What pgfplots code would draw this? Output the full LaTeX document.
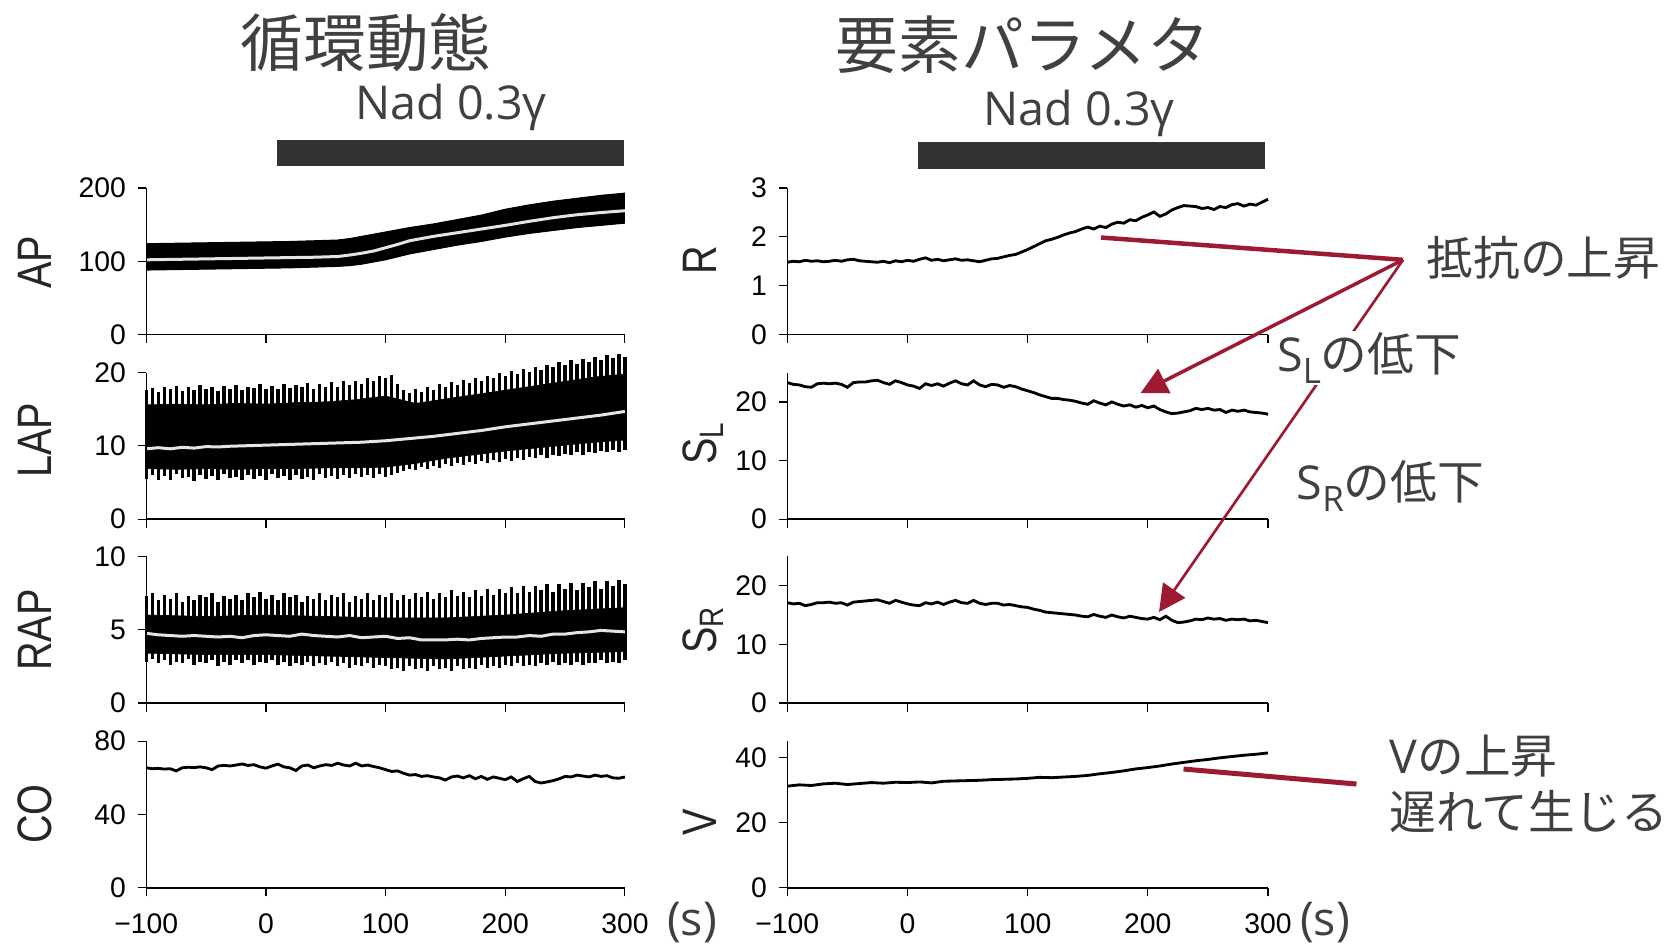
\documentclass[border=0pt]{standalone}
\usepackage{pgfplots}
\pgfplotsset{compat=1.18}
\usepackage{pgfplotstable}
\usepgfplotslibrary{fillbetween}
\usetikzlibrary{arrows.meta}
\usepackage{graphicx}
\usepackage{fontspec}
\setmainfont{Liberation Sans}
\newfontfamily\jp{Noto Sans CJK JP}
\newfontfamily\op{Open Sans}
\definecolor{arr}{RGB}{156,27,50}
\definecolor{barc}{RGB}{51,51,51}
\definecolor{txt}{RGB}{64,64,64}
\definecolor{lab}{RGB}{38,38,38}
\definecolor{meanc}{RGB}{228,228,228}

\pgfplotstableread{
t lo hi m
-100 88 124 102
-80 88.5 124.5 102.5
-60 89 125 103
-40 89.5 125.5 103.5
-20 90 126 104
0 90.5 126.5 104.5
20 91 127 105
40 92 128 105.5
60 93 129 106.5
70 94 131 108.5
80 96 134 111
90 99 137 114
100 102 140 118.5
110 106 143 123
120 110 146 128
140 116 151 134
160 122 157 139
180 127 163 144
200 133 171 149
220 138 177 154.5
240 142 182 159.5
260 146 186 163.5
280 149 190 166.5
300 152 193 169
}\aptab

\pgfplotstableread{
t lo hi
-100 5.5 17.6
-95 6.0 17.9
-90 5.4 17.4
-85 5.9 18.1
-80 5.3 17.7
-75 6.1 18.2
-70 5.6 17.5
-65 5.8 18.0
-60 5.2 17.6
-55 6.0 18.3
-50 5.5 17.8
-45 5.9 18.1
-40 5.3 17.5
-35 6.2 18.2
-30 5.6 17.7
-25 5.8 18.3
-20 5.4 17.6
-15 6.0 18.1
-10 5.5 17.9
-5 5.9 18.4
0 5.4 17.7
5 6.1 18.2
10 5.6 17.8
15 5.9 18.5
20 5.3 17.9
25 6.0 18.3
30 5.5 18.0
35 5.8 18.6
40 5.4 17.8
45 6.2 18.4
50 5.6 18.1
55 5.9 18.7
60 5.5 18.0
65 6.0 18.8
70 5.6 18.3
75 6.1 18.9
80 5.7 18.5
85 6.0 19.2
90 5.6 18.8
95 6.2 19.5
100 5.8 19.3
105 6.0 19.7
110 6.3 18.4
115 6.6 17.6
120 6.9 17.2
125 6.7 17.8
130 7.1 17.3
135 6.9 18.0
140 7.3 17.6
145 7.0 18.4
150 7.5 18.0
155 7.2 18.7
160 7.6 18.3
165 7.4 19.0
170 7.8 18.6
175 7.5 19.3
180 7.9 18.9
185 7.7 19.6
190 8.1 19.2
195 7.8 19.9
200 8.2 19.5
205 8.0 20.2
210 8.4 19.8
215 8.1 20.5
220 8.5 20.1
225 8.3 20.8
230 8.7 20.4
235 8.4 21.1
240 8.8 20.7
245 8.6 21.4
250 8.9 21.0
255 8.7 21.7
260 9.1 21.2
265 8.8 21.9
270 9.2 21.5
275 9.0 22.2
280 9.3 21.7
285 9.1 22.4
290 9.4 22.0
295 9.2 22.6
300 9.5 22.1
}\lapspk
\pgfplotstableread{
t lo hi
-100 6.9 15.6
-75 6.8 15.7
-50 6.9 15.6
-25 6.8 15.8
0 6.9 15.7
25 6.9 15.9
50 7.0 16.0
75 7.0 16.3
100 7.1 16.8
125 7.6 15.8
150 8.3 16.4
175 8.8 17.0
200 9.3 17.6
225 9.7 18.2
250 10.1 18.8
275 10.5 19.4
300 10.8 19.8
}\lapcore
\pgfplotstableread{
t m
-100 9.6
-90 9.75
-80 9.6
-70 9.8
-60 9.7
-50 9.9
-40 9.85
-30 9.95
-20 10.0
-10 10.05
0 10.1
20 10.2
40 10.3
60 10.4
80 10.5
100 10.7
120 11.0
140 11.3
160 11.7
180 12.1
200 12.6
220 13.0
240 13.4
260 13.8
280 14.2
300 14.7
}\lapmean

\pgfplotstableread{
t lo hi
-100 2.8 7.3
-95 3.0 7.5
-90 2.7 7.0
-85 2.9 7.4
-80 2.6 7.1
-75 2.8 7.5
-70 2.7 6.9
-65 3.0 7.3
-60 2.6 7.0
-55 2.8 7.4
-50 2.7 7.2
-45 2.9 7.5
-40 2.5 6.9
-35 2.8 7.3
-30 2.6 7.1
-25 2.9 7.4
-20 2.7 7.0
-15 2.9 7.5
-10 2.6 7.2
-5 2.8 7.6
0 2.7 7.1
5 2.9 7.4
10 2.6 7.0
15 2.8 7.5
20 2.5 7.2
25 2.7 7.4
30 2.6 6.9
35 2.8 7.3
40 2.5 7.1
45 2.7 7.5
50 2.6 7.0
55 2.8 7.4
60 2.5 7.2
65 2.7 7.5
70 2.4 6.9
75 2.6 7.3
80 2.5 7.1
85 2.7 7.5
90 2.4 7.0
95 2.6 7.4
100 2.5 7.2
105 2.3 7.5
110 2.4 7.0
115 2.2 7.4
120 2.5 7.1
125 2.3 7.5
130 2.4 7.2
135 2.2 7.6
140 2.5 7.1
145 2.3 7.5
150 2.4 7.2
155 2.2 7.7
160 2.5 7.3
165 2.3 7.6
170 2.4 7.2
175 2.3 7.7
180 2.6 7.3
185 2.4 7.8
190 2.5 7.4
195 2.4 7.8
200 2.6 7.5
205 2.5 7.9
210 2.7 7.5
215 2.5 8.0
220 2.6 7.6
225 2.5 8.0
230 2.7 7.7
235 2.6 8.1
240 2.8 7.6
245 2.6 8.1
250 2.7 7.8
255 2.6 8.2
260 2.8 7.7
265 2.6 8.2
270 2.7 7.9
275 2.7 8.3
280 2.9 7.8
285 2.7 8.3
290 2.8 8.0
295 2.7 8.4
300 2.9 8.1
}\rapspk
\pgfplotstableread{
t lo hi
-100 3.4 6.0
-50 3.3 5.9
0 3.3 6.0
50 3.2 5.9
100 3.1 5.8
150 3.0 5.8
200 3.2 6.0
250 3.4 6.3
300 3.5 6.5
}\rapcore
\pgfplotstableread{
t m
-100 4.75
-90 4.65
-80 4.6
-70 4.55
-60 4.6
-50 4.55
-40 4.5
-30 4.55
-20 4.45
-10 4.6
0 4.65
10 4.6
20 4.55
30 4.7
40 4.6
50 4.55
60 4.5
70 4.6
80 4.45
90 4.5
100 4.55
110 4.4
120 4.45
130 4.3
140 4.3
150 4.3
160 4.35
170 4.3
180 4.4
190 4.45
200 4.5
210 4.5
220 4.6
230 4.55
240 4.7
250 4.7
260 4.8
270 4.85
280 4.95
290 4.9
300 4.85
}\rapmean

\pgfplotstableread{
t v
-100 65.5
-95 65.0
-90 65.2
-85 64.8
-80 65.0
-75 63.8
-70 65.5
-65 65.8
-60 65.6
-55 66.0
-50 65.5
-45 64.5
-40 66.5
-35 66.8
-30 66.5
-25 67.0
-20 67.6
-15 66.8
-10 67.2
-5 66.0
0 65.3
5 66.5
10 67.5
15 66.0
20 65.5
25 64.0
30 66.5
35 67.0
40 65.5
45 66.5
50 67.2
55 66.8
60 68.0
65 67.0
70 66.5
75 68.0
80 66.5
85 67.0
90 66.2
95 65.5
100 64.5
105 63.5
110 63.8
115 62.5
120 61.5
125 61.8
130 60.8
135 61.2
140 60.5
145 60.0
150 58.8
155 60.5
160 61.0
165 60.0
170 61.2
175 59.5
180 60.8
185 59.2
190 60.5
195 59.8
200 59.0
205 60.5
210 58.0
215 59.5
220 60.8
225 58.0
230 57.2
235 57.8
240 58.5
245 59.5
250 60.8
255 60.5
260 61.5
265 61.0
270 60.5
275 61.5
280 60.8
285 61.2
290 60.0
295 59.8
300 60.5
}\cotab

\pgfplotstableread{
t r sl sr
-100 1.48 23.3 17.1
-95 1.50 23.0 16.9
-90 1.49 22.9 17.0
-85 1.52 22.6 16.6
-80 1.50 22.5 16.8
-75 1.51 23.1 17.1
-70 1.49 23.2 17.1
-65 1.50 23.1 17.2
-60 1.52 23.2 17.0
-55 1.50 23.0 17.1
-50 1.53 22.5 16.7
-45 1.54 23.3 17.2
-40 1.51 23.4 17.3
-35 1.50 23.4 17.4
-30 1.49 23.6 17.5
-25 1.48 23.7 17.6
-20 1.50 23.3 17.3
-15 1.47 23.0 17.0
-10 1.51 23.6 17.5
-5 1.49 23.3 17.2
0 1.52 22.9 16.9
5 1.50 22.7 16.7
10 1.54 22.3 16.6
15 1.57 23.1 17.1
20 1.52 22.8 16.9
25 1.54 23.1 17.2
30 1.51 22.7 16.8
35 1.53 23.2 17.2
40 1.55 23.6 17.5
45 1.52 23.1 17.1
50 1.53 22.9 17.0
55 1.51 23.6 17.5
60 1.49 22.9 17.0
65 1.52 22.6 16.8
70 1.55 23.0 17.0
75 1.56 22.9 17.0
80 1.59 22.5 16.7
85 1.62 22.8 16.8
90 1.64 22.6 16.6
95 1.69 22.2 16.4
100 1.74 21.9 16.3
105 1.80 21.6 16.0
110 1.86 21.2 15.8
115 1.92 20.9 15.5
120 1.95 20.6 15.4
125 1.99 20.6 15.3
130 2.04 20.4 15.2
135 2.08 20.3 15.1
140 2.11 20.1 15.0
145 2.16 19.8 14.8
150 2.20 19.6 14.7
155 2.16 20.2 15.1
160 2.22 19.8 14.8
165 2.19 19.5 14.6
170 2.26 20.0 15.0
175 2.30 19.6 14.7
180 2.28 19.3 14.5
185 2.35 19.5 14.8
190 2.33 19.1 14.6
195 2.40 19.4 14.4
200 2.45 19.0 14.3
205 2.51 19.3 14.6
210 2.42 18.7 14.2
215 2.47 18.3 14.8
220 2.55 18.0 14.1
225 2.60 18.1 13.7
230 2.64 18.3 13.8
235 2.63 18.5 14.0
240 2.62 18.9 14.3
245 2.58 18.7 14.2
250 2.60 18.9 14.5
255 2.56 18.6 14.3
260 2.62 18.7 14.4
265 2.60 18.2 14.1
270 2.66 18.6 14.3
275 2.68 18.4 14.2
280 2.63 18.6 14.3
285 2.67 18.3 14.0
290 2.65 18.2 14.1
295 2.71 18.1 13.9
300 2.77 17.9 13.7
}\partab

\pgfplotstableread{
t v
-100 31.2
-90 31.6
-80 31.4
-70 31.9
-60 32.1
-50 31.7
-40 32.0
-30 32.3
-20 32.1
-10 32.4
0 32.3
10 32.5
20 32.2
30 32.7
40 32.8
50 32.9
60 33.0
70 33.2
80 33.3
90 33.4
100 33.6
110 33.9
120 33.8
130 34.0
140 34.2
150 34.5
160 35.0
170 35.4
180 35.9
190 36.5
200 36.9
210 37.4
220 38.0
230 38.5
240 39.0
250 39.4
260 39.9
270 40.3
280 40.7
290 41.0
300 41.4
}\vtab

\pgfplotsset{
  panel/.style={
    scale only axis, height=43.95pt,
    xmin=-100, xmax=300, xtick={-100,0,100,200,300},
    xticklabels={},
    axis x line=bottom, axis y line=left,
    x axis line style={line width=0.55pt,-},
    y axis line style={line width=0.35pt,-},
    tick align=outside,
    major tick length=2.6pt,
    every tick/.style={black, line width=0.35pt},
    tick label style={font=\fontsize{8.5}{9}\selectfont},
    xticklabel style={yshift=-1.6pt},
    clip=false,
    axis on top,
    anchor=south west,
  },
  lpan/.style={panel, width=143.58pt},
  rpan/.style={panel, width=144.21pt},
  bot/.style={xticklabels={−100,0,100,200,300}},
  dl/.style={black, line width=0.85pt},
  spkb/.style={ycomb, mark=none, black, line width=1.0pt},
  spkw/.style={ycomb, mark=none, white, line width=1.25pt},
}

\begin{document}
\begin{tikzpicture}
\path (0pt,0pt) rectangle (502.5pt,-285pt);

% ===== AP =====
\begin{axis}[lpan, at={(43.89pt,-100.35pt)}, ymin=0, ymax=200, ytick={0,100,200}, yticklabels={0,100,200}]
\addplot[name path=aphi, draw=black, line width=0.3pt] table[x=t,y=hi]{\aptab};
\addplot[name path=aplo, draw=black, line width=0.3pt] table[x=t,y=lo]{\aptab};
\addplot[fill=black, draw=none] fill between[of=aphi and aplo];
\addplot[meanc, line width=0.9pt] table[x=t,y=m]{\aptab};
\draw[barc, fill=barc] (axis cs:10,230.6) rectangle (axis cs:299,264.3);
\end{axis}

% ===== LAP =====
\begin{axis}[lpan, at={(43.89pt,-155.73pt)}, ymin=0, ymax=20, ytick={0,10,20}, yticklabels={0,10,20}]
\addplot[spkb] table[x=t, y=hi]{\lapspk};
\addplot[spkw] table[x=t, y=lo]{\lapspk};
\addplot[name path=lc1, draw=black, line width=0.2pt] table[x=t,y=lo]{\lapcore};
\addplot[name path=lc2, draw=black, line width=0.2pt] table[x=t,y=hi]{\lapcore};
\addplot[fill=black, draw=none] fill between[of=lc1 and lc2];
\addplot[meanc, line width=0.9pt] table[x=t,y=m]{\lapmean};
\end{axis}

% ===== RAP =====
\begin{axis}[lpan, at={(43.89pt,-210.87pt)}, ymin=0, ymax=10, ytick={0,5,10}, yticklabels={0,5,10}]
\addplot[spkb] table[x=t, y=hi]{\rapspk};
\addplot[spkw] table[x=t, y=lo]{\rapspk};
\addplot[name path=rc1, draw=black, line width=0.2pt] table[x=t,y=lo]{\rapcore};
\addplot[name path=rc2, draw=black, line width=0.2pt] table[x=t,y=hi]{\rapcore};
\addplot[fill=black, draw=none] fill between[of=rc1 and rc2];
\addplot[meanc, line width=0.9pt] table[x=t,y=m]{\rapmean};
\end{axis}

% ===== CO =====
\begin{axis}[lpan, bot, at={(43.89pt,-266.31pt)}, ymin=0, ymax=80, ytick={0,40,80}, yticklabels={0,40,80}]
\addplot[dl] table[x=t,y=v]{\cotab};
\end{axis}

% ===== R =====
\begin{axis}[rpan, at={(236.19pt,-100.35pt)}, ymin=0, ymax=3, ytick={0,1,2,3}, yticklabels={0,1,2,3}]
\addplot[dl] table[x=t,y=r]{\partab};
\draw[barc, fill=barc] (axis cs:9.3,3.41) rectangle (axis cs:297.2,3.92);
\end{axis}

% ===== SL =====
\begin{axis}[rpan, at={(236.19pt,-155.73pt)}, ymin=0, ymax=25, ytick={0,10,20}, yticklabels={0,10,20}]
\addplot[dl] table[x=t,y=sl]{\partab};
\end{axis}

% ===== SR =====
\begin{axis}[rpan, at={(236.19pt,-210.87pt)}, ymin=0, ymax=25, ytick={0,10,20}, yticklabels={0,10,20}]
\addplot[dl] table[x=t,y=sr]{\partab};
\end{axis}

% ===== V =====
\begin{axis}[rpan, bot, at={(236.19pt,-266.31pt)}, ymin=0, ymax=45, ytick={0,20,40}, yticklabels={0,20,40}]
\addplot[dl] table[x=t,y=v]{\vtab};
\end{axis}

\begin{scope}[x=0.3pt, y=-0.3pt, every node/.style={inner sep=0pt}]
\node[txt, font=\jp\fontsize{18.8}{19}\selectfont] at (366,43) {循環動態};
\node[txt, font=\jp\fontsize{18.8}{19}\selectfont] at (1023,45) {要素パラメタ};
\node[txt, font=\op\fontsize{14}{15}\selectfont] at (451,107) {Nad 0.3γ};
\node[txt, font=\op\fontsize{14}{15}\selectfont] at (1079,113) {Nad 0.3γ};

\tikzset{yl/.style={lab, rotate=90, font=\fontsize{14.5}{15}\selectfont}}
\node[yl] at (35,262) {\scalebox{0.82}[1]{AP}};
\node[yl] at (35,440) {\scalebox{0.82}[1]{LAP}};
\node[yl] at (35,630) {\scalebox{0.82}[1]{RAP}};
\node[yl] at (35,814) {\scalebox{0.82}[1]{CO}};
\node[yl] at (700,260) {\scalebox{0.82}[1]{R}};
\node[yl] at (703,443) {\scalebox{0.82}[1]{S\textsubscript{L}}};
\node[yl] at (703,630) {\scalebox{0.82}[1]{S\textsubscript{R}}};
\node[yl] at (700,822) {\scalebox{0.82}[1]{V}};

\node[txt, font=\op\fontsize{14}{15}\selectfont] at (692,922) {(s)};
\node[txt, font=\op\fontsize{14}{15}\selectfont] at (1325,922) {(s)};

\draw[arr, line width=1.35pt] (1101,237.5) -- (1403,259.8);
\draw[arr, line width=0.8pt, -{Triangle[length=8pt,width=8pt]}] (1403,259.8) -- (1159,612);
\node[txt, anchor=west, fill=white, inner sep=0.6pt, font=\jp\fontsize{14}{15}\selectfont] at (1274.5,358)
  {{\op S\raisebox{-0.45ex}{\fontsize{10.5}{10}\selectfont L}}の低下};
\draw[arr, line width=1.05pt, -{Triangle[length=8pt,width=8pt]}] (1403,259.8) -- (1140.5,393);
\draw[arr, line width=1.5pt] (1183.5,769) -- (1356.5,784);

\node[txt, anchor=west, font=\jp\fontsize{14}{15}\selectfont] at (1426,258) {抵抗の上昇};
\node[txt, anchor=west, font=\jp\fontsize{14}{15}\selectfont] at (1296,486)
  {{\op S\raisebox{-0.45ex}{\fontsize{10.5}{10}\selectfont R}}の低下};
\node[txt, anchor=west, font=\jp\fontsize{14}{15}\selectfont] at (1389,756) {{\op V}の上昇};
\node[txt, anchor=west, font=\jp\fontsize{14}{15}\selectfont] at (1389,812) {遅れて生じる};
\end{scope}
\end{tikzpicture}
\end{document}
